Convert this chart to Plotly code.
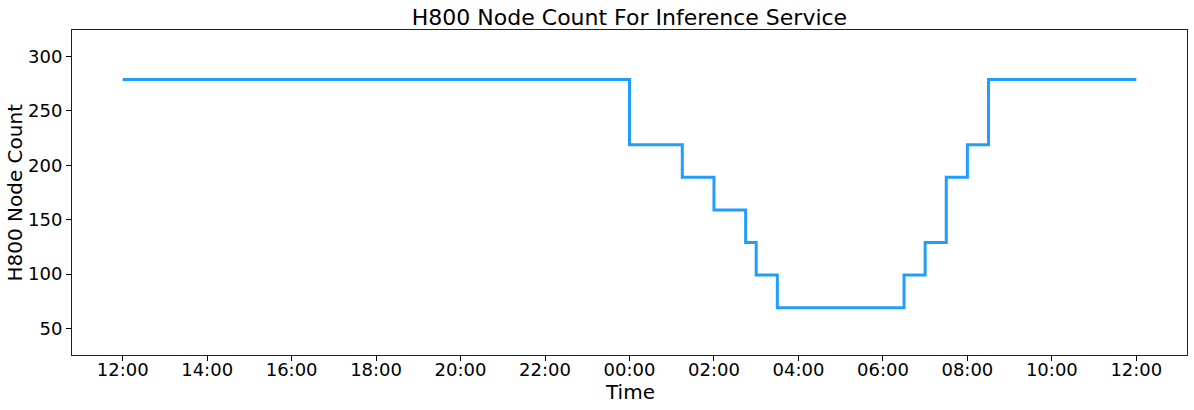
import pandas as pd
import plotly.graph_objects as go

# step change points (time of change, node count from that time on)
change_times = ["2024-01-01 12:00", "2024-01-02 00:00", "2024-01-02 01:15",
                "2024-01-02 02:00", "2024-01-02 02:45", "2024-01-02 03:00",
                "2024-01-02 03:30", "2024-01-02 06:30", "2024-01-02 07:00",
                "2024-01-02 07:30", "2024-01-02 08:00", "2024-01-02 08:30",
                "2024-01-02 12:00"]
node_counts = [279, 219, 189, 159, 129, 99, 69, 99, 129, 189, 219, 279, 279]

tick_times = pd.date_range("2024-01-01 12:00", "2024-01-02 12:00", freq="2h")
tick_labels = [t.strftime("%H:%M") for t in tick_times]

t = pd.to_datetime(change_times)
pad = (t[-1] - t[0]) * 0.05

fig = go.Figure()
fig.add_trace(go.Scatter(x=t, y=node_counts, mode="lines", line_shape="hv",
                         line=dict(color="#1f9ffb", width=3)))

font = "DejaVu Sans"
fig.update_layout(
    width=1194, height=410,
    margin=dict(l=72, r=7, t=30, b=55),
    paper_bgcolor="white", plot_bgcolor="white",
    showlegend=False,
    font=dict(family=font, color="black"),
    title=dict(text="H800 Node Count For Inference Service", x=0.5, xref="paper",
               xanchor="center", y=1, yref="paper", yanchor="bottom",
               pad=dict(b=5), font=dict(size=22, family=font)),
)
fig.update_xaxes(
    range=[t[0] - pad, t[-1] + pad], automargin=False,
    tickvals=tick_times, ticktext=tick_labels,
    tickfont=dict(size=18), ticks="outside", ticklen=5, tickcolor="black",
    ticklabelstandoff=-7,
    showline=True, mirror=True, linecolor="#222", linewidth=1,
    showgrid=False, zeroline=False,
)
fig.update_yaxes(
    range=[25.5, 324.5], automargin=False,
    tickvals=[50, 100, 150, 200, 250, 300],
    tickfont=dict(size=18), ticks="outside", ticklen=5, tickcolor="black",
    showline=True, mirror=True, linecolor="#222", linewidth=1,
    showgrid=False, zeroline=False,
)
# axis titles placed as annotations to keep the plot area fixed
fig.add_annotation(text="Time", xref="paper", yref="paper", x=0.5, y=0,
                   yshift=-37, yanchor="middle", showarrow=False,
                   font=dict(size=20))
fig.add_annotation(text="H800 Node Count", xref="paper", yref="paper", x=0,
                   y=0.5, xshift=-58, xanchor="center", textangle=-90,
                   showarrow=False, font=dict(size=20))

# drop the browser's default body margin so the figure sits at 0,0
fig.write_html("out.html", config={"displayModeBar": False},
               post_script="document.body.style.margin='0';")
